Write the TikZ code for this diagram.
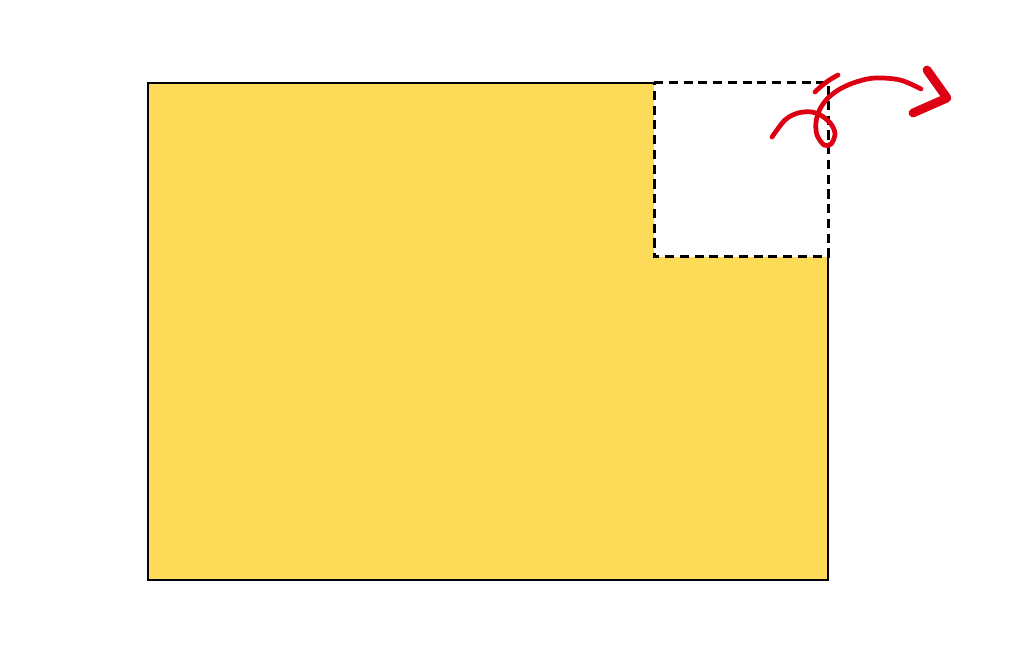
\documentclass[tikz,border=0pt]{standalone}
\usepackage[dvipsnames]{xcolor}
\definecolor{sheet}{HTML}{FDDB59}
\definecolor{curl}{HTML}{DC0012}

\begin{document}
\begin{tikzpicture}[line join=miter,
    edge line/.style={draw=black,line width=0.6pt},
    cut line/.style={draw=black,line width=0.85pt,dash pattern=on 2.6pt off 1.6pt},
    curl line/.style={draw=curl,line width=1.35pt,line cap=round},
    curl head/.style={draw=curl,line width=2.5pt,line cap=round,line join=round}]

            \useasboundingbox (0,0) rectangle (10.11,6.53);

            \coordinate (tl) at (1.48,5.70);
            \coordinate (bl) at (1.48,0.73);
            \coordinate (br) at (8.28,0.73);
            \coordinate (ci) at (6.54,3.96);
            \coordinate (cr) at (8.28,3.96);
            \coordinate (ct) at (6.54,5.70);
            \coordinate (co) at (8.28,5.70);

            \fill[sheet] (tl) -- (bl) -- (br) -- (cr) -- (ci) -- (ct) -- cycle;
            \draw[edge line] (ct) -- (tl) -- (bl) -- (br) -- (cr);
            \draw[cut line] (ct) -- (co) -- (cr) -- (ci) -- cycle;

            % curl arrow
            \coordinate (start) at (7.72,5.16);
            \coordinate (tip) at (9.47,5.55);
            \draw[curl line] plot[smooth,tension=0.55] coordinates {(start) (7.85,5.33) (7.98,5.40) (8.12,5.41) (8.22,5.37) (8.31,5.29) (8.35,5.19) (8.31,5.09) (8.24,5.08) (8.17,5.18) (8.16,5.31) (8.20,5.44) (8.28,5.55) (8.40,5.64) (8.56,5.71) (8.75,5.75) (9.00,5.73) (9.21,5.64)};
            \draw[curl line] (8.15,5.61) to[bend left=8] (8.38,5.78);
            \draw[curl head] (9.27,5.83) -- (tip) -- (9.13,5.40);

        \end{tikzpicture}
\end{document}
